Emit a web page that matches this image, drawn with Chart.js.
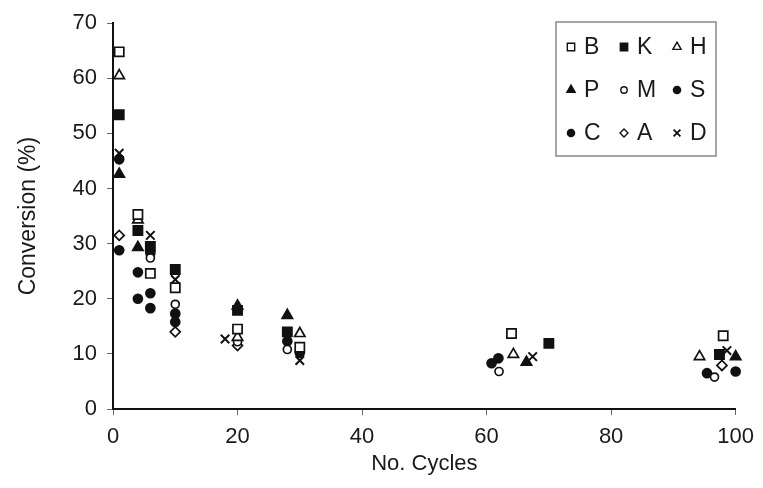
<!DOCTYPE html>
<html>
<head>
<meta charset="utf-8">
<script src="https://cdn.jsdelivr.net/npm/chart.js@4/dist/chart.umd.min.js"></script>
<style>
  html, body { margin: 0; padding: 0; background: #fff; }
  #wrap { width: 763px; height: 488px; }
</style>
</head>
<body>
<div id="wrap"><canvas id="chart" width="763" height="488"></canvas></div>
<script>
// cycles (x) and conversion % (y) per catalyst
var cyclesB = [1, 4, 6, 10, 20, 30, 64, 98];
var convB   = [64.8, 35.3, 24.6, 22, 14.5, 11.2, 13.7, 13.3];
var cyclesK = [1, 4, 6, 10, 20, 28, 70, 97.4];
var convK   = [53.4, 32.4, 29.5, 25.3, 17.9, 14, 11.9, 9.9];
var cyclesH = [1, 4, 20, 30, 64.3, 94.2];
var convH   = [60.5, 34.3, 13, 13.7, 9.9, 9.5];
var cyclesP = [1, 4, 20, 28, 66.4, 100];
var convP   = [42.6, 29.3, 18.7, 17, 8.5, 9.5];
var cyclesM = [6, 10, 20, 28, 62, 96.6];
var convM   = [27.4, 19, 12.2, 10.8, 6.8, 5.8];
var cyclesS = [1, 4, 6, 6, 10, 28, 60.8, 95.4];
var convS   = [45.3, 24.8, 28.3, 21, 17.3, 12.3, 8.3, 6.5];
var cyclesC = [1, 4, 6, 10, 30, 61.9, 100];
var convC   = [28.8, 20, 18.3, 15.8, 10.2, 9.2, 6.8];
var cyclesA = [1, 10, 20, 97.8];
var convA   = [31.5, 14, 11.5, 7.9];
var cyclesD = [1, 6, 10, 18, 30, 67.4, 98.6];
var convD   = [46.4, 31.5, 23.5, 12.7, 8.8, 9.5, 10.6];

var xTicks = [0, 20, 40, 60, 80, 100];
var yTicks = [0, 10, 20, 30, 40, 50, 60, 70];

function pts(xs, ys) {
    return xs.map(function (x, i) { return { x: x, y: ys[i] }; });
}

function series(label, xs, ys, style, filled, r) {
    return {
        label: label,
        data: pts(xs, ys),
        pointStyle: style,
        pointRadius: r,
        pointHoverRadius: r,
        pointBorderWidth: style === 'crossRot' ? 2 : 1.7,
        borderColor: '#111',
        pointBorderColor: '#111',
        pointBackgroundColor: filled ? '#111' : '#fff',
        backgroundColor: filled ? '#111' : '#fff',
        showLine: false,
        clip: false
    };
}

var FONT = 'Liberation Sans, Arial, sans-serif';
var TXT = '#1a1a1a';

// legend drawn as a 3x3 boxed grid in the upper right
var gridLegend = {
    id: 'gridLegend',
    afterDraw: function (chart) {
        var c = chart.ctx;
        c.save();
        c.strokeStyle = '#888';
        c.lineWidth = 1.5;
        c.strokeRect(556, 22, 160, 134);
        c.font = '23px ' + FONT;
        c.textBaseline = 'middle';
        c.textAlign = 'left';
        chart.data.datasets.forEach(function (ds, i) {
            var col = i % 3, row = Math.floor(i / 3);
            var mx = 571 + col * 53, my = 47 + row * 43;
            c.strokeStyle = '#111';
            c.fillStyle = ds.pointBackgroundColor;
            c.lineWidth = ds.pointStyle === 'crossRot' ? 1.8 : 1.4;
            Chart.helpers.drawPoint(c, {
                pointStyle: ds.pointStyle,
                radius: ds.pointRadius * 0.8,
                borderWidth: c.lineWidth,
                rotation: 0
            }, mx, my);
            c.fillStyle = TXT;
            c.fillText(ds.label, mx + 13, my + 1);
        });
        c.restore();
    }
};

var ctx = document.getElementById('chart').getContext('2d');
var chart = new Chart(ctx, {
    type: 'scatter',
    data: {
        datasets: [
            series('B', cyclesB, convB, 'rect', false, 6.5),
            series('K', cyclesK, convK, 'rect', true, 6.5),
            series('H', cyclesH, convH, 'triangle', false, 6),
            series('P', cyclesP, convP, 'triangle', true, 6),
            series('M', cyclesM, convM, 'circle', false, 4),
            series('S', cyclesS, convS, 'circle', true, 4.5),
            series('C', cyclesC, convC, 'circle', true, 4.5),
            series('A', cyclesA, convA, 'rectRot', false, 5),
            series('D', cyclesD, convD, 'crossRot', false, 6)
        ]
    },
    options: {
        responsive: false,
        animation: false,
        layout: { padding: { top: 20, right: 25, left: 0, bottom: 0 } },
        plugins: {
            legend: { display: false },
            tooltip: { enabled: false }
        },
        scales: {
            x: {
                type: 'linear',
                min: 0,
                max: 100,
                afterBuildTicks: function (s) { s.ticks = xTicks.map(function (v) { return { value: v }; }); },
                afterFit: function (s) { s.height = 79; },
                grid: { drawOnChartArea: false, drawTicks: true, tickLength: 6, color: '#666', lineWidth: 1 },
                border: { display: true, color: '#111', width: 2 },
                ticks: { color: TXT, padding: 9, font: { family: FONT, size: 22 } },
                title: {
                    display: true,
                    text: 'No. Cycles',
                    color: TXT,
                    font: { family: FONT, size: 22 },
                    padding: { top: 0, bottom: 11 }
                }
            },
            y: {
                type: 'linear',
                min: 0,
                max: 70,
                afterBuildTicks: function (s) { s.ticks = yTicks.map(function (v) { return { value: v }; }); },
                afterFit: function (s) { s.width = 113; },
                grid: { drawOnChartArea: false, drawTicks: true, tickLength: 6, color: '#666', lineWidth: 1 },
                border: { display: true, color: '#111', width: 2 },
                ticks: { color: TXT, padding: 10, font: { family: FONT, size: 22 } },
                title: {
                    display: true,
                    text: 'Conversion (%)',
                    color: TXT,
                    font: { family: FONT, size: 23 },
                    padding: { top: 15, bottom: 0 }
                }
            }
        }
    },
    plugins: [gridLegend]
});
</script>
</body>
</html>
